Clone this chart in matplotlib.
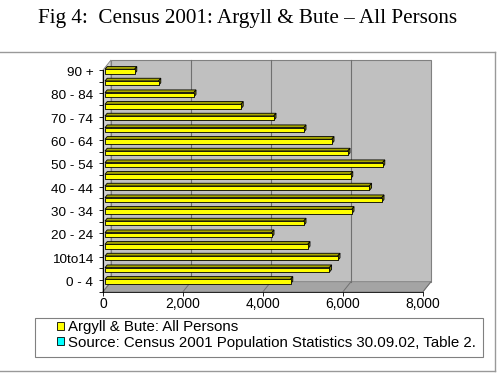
import matplotlib
matplotlib.use("Agg")
import matplotlib.pyplot as plt
from matplotlib.patches import Rectangle, Polygon, Patch
from matplotlib.lines import Line2D

# age bands, youngest first (only every other one is labelled in the original)
age_bands = ["0 - 4", "5 - 9", "10to14", "15 - 19", "20 - 24", "25 - 29", "30 - 34",
             "35 - 39", "40 - 44", "45 - 49", "50 - 54", "55 - 59", "60 - 64",
             "65 - 69", "70 - 74", "75 - 79", "80 - 84", "85 - 89", "90 +"]
persons = [4640, 5610, 5820, 5070, 4170, 4970, 6170, 6920, 6610, 6140,
           6940, 6070, 5670, 4970, 4220, 3400, 2220, 1340, 740]
x_ticks = [0, 2000, 4000, 6000, 8000]
x_labels = ["0", "2,000", "4,000", "6,000", "8,000"]

title = "Fig 4:  Census 2001: Argyll & Bute \u2013 All Persons"
series_name = "Argyll & Bute: All Persons"
source_name = "Source: Census 2001 Population Statistics 30.09.02, Table 2."

W, H = 500, 375
fig = plt.figure(figsize=(5, 3.75), dpi=100)
fx = lambda p: p / W
fy = lambda p: 1 - p / H

# front plane of the 3d box
x0, x1, ytop, ybot = 103, 423, 70, 291.7
ax = fig.add_axes([fx(x0), fy(ybot), (x1 - x0) / W, (ybot - ytop) / H])
n = len(age_bands)
ax.set_xlim(0, 8000)
ax.set_ylim(-0.5, n - 0.5)
ax.patch.set_visible(False)

# pixel -> data units
sx = 8000 / (x1 - x0)
sy = n / (ybot - ytop)
ddx, ddy = 8 * sx, 10 * sy          # full depth of the box
bx, by = 2 * sx, 4.3 * sy           # where the bars sit in the depth
tx, ty = 2.2 * sx, 2.7 * sy         # depth of each bar
hh = 4.5 * sy / 2                   # half height of bar front

lo, hi = -0.5, n - 0.5
wall = "#808080"
ax.add_patch(Rectangle((ddx, lo + ddy), 8000, n, fc="#c0c0c0", ec=wall, lw=0.8,
                       clip_on=False, zorder=0))
ax.add_patch(Polygon([(0, lo), (ddx, lo + ddy), (ddx, hi + ddy), (0, hi)],
                     fc="#d0d0d0", ec=wall, lw=0.6, clip_on=False, zorder=0))
ax.add_patch(Polygon([(0, lo), (8000, lo), (8000 + ddx, lo + ddy), (ddx, lo + ddy)],
                     fc="#a4a4a4", ec=wall, lw=0.6, clip_on=False, zorder=0))
for t in x_ticks:
    ax.plot([t, t + ddx], [lo, lo + ddy], color="#707070", lw=0.7, clip_on=False, zorder=1)
    if 0 < t < 8000:
        ax.plot([t + ddx, t + ddx], [lo + ddy, hi + ddy], color="#707070", lw=0.8,
                clip_on=False, zorder=1)

for i, v in enumerate(persons):
    yb, yt = i - hh + by, i + hh + by
    ax.add_patch(Polygon([(bx, yt), (bx + v, yt), (bx + v + tx, yt + ty), (bx + tx, yt + ty)],
                         fc="#a6a600", ec="black", lw=0.6, clip_on=False, zorder=3))
    ax.add_patch(Polygon([(bx + v, yb), (bx + v + tx, yb + ty), (bx + v + tx, yt + ty), (bx + v, yt)],
                         fc="#808000", ec="black", lw=0.6, clip_on=False, zorder=3))
    ax.add_patch(Rectangle((bx, yb), v, yt - yb, fc="#ffff00", ec="black", lw=0.6,
                           clip_on=False, zorder=4))

for s in ["top", "right"]:
    ax.spines[s].set_visible(False)
ax.spines["left"].set_linewidth(0.8)
ax.spines["bottom"].set_linewidth(0.6)

ax.set_xticks(x_ticks)
ax.set_xticklabels(x_labels, family="Liberation Sans", fontsize=10)
ax.tick_params(axis="x", length=3, width=0.6, pad=1)

shown = list(range(0, n, 2))
ax.set_yticks([i + by for i in shown])
ax.set_yticklabels([age_bands[i] for i in shown], family="Liberation Sans", fontsize=9.7)
ax.tick_params(axis="y", which="major", length=0, pad=7)
ax.set_yticks([k - 0.5 for k in range(n + 1)], minor=True)
ax.tick_params(axis="y", which="minor", length=3, width=0.6)

fig.text(fx(247.5), fy(18), title, family="Liberation Serif", fontsize=15.2,
         ha="center", va="center")

# chart area and legend frames
border = "#999999"
fig.add_artist(Line2D([0, fx(495)], [fy(51.7), fy(51.7)], color=border, lw=1))
fig.add_artist(Line2D([fx(495), fx(495)], [fy(51.7), fy(370.7)], color=border, lw=1))
fig.add_artist(Line2D([0, fx(495)], [fy(370.7), fy(370.7)], color=border, lw=1))
fig.add_artist(Rectangle((fx(35), fy(356.7)), fx(483) - fx(35), fy(317.7) - fy(356.7),
                         transform=fig.transFigure, fill=False, ec="#808080", lw=0.8))

handles = [Patch(fc="#ffff00", ec="black", lw=0.6), Patch(fc="#00ffff", ec="black", lw=0.6)]
fig.legend(handles, [series_name, source_name], loc="upper left",
           bbox_to_anchor=(fx(54), fy(317.5)), frameon=False,
           prop={"family": "Liberation Sans", "size": 10.8},
           handlelength=0.45, handleheight=0.45, handletextpad=0.25,
           labelspacing=0.08, borderpad=0.2, borderaxespad=0)

fig.savefig("out.png", dpi=100)
